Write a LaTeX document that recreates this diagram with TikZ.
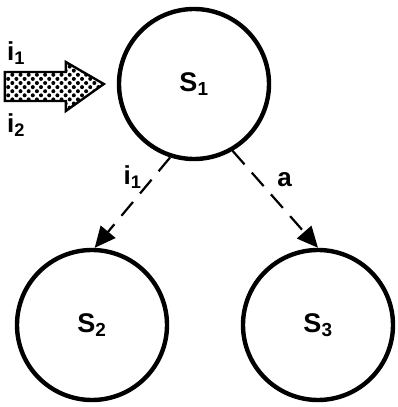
\documentclass[tikz,border=0pt]{standalone}
\usepackage{fontspec}
\setmainfont{Liberation Sans}
\usetikzlibrary{arrows.meta,patterns.meta}

\begin{document}
\begin{tikzpicture}[x=1pt,y=1pt,
  state/.style={draw,circle,line width=4.4pt,minimum size=150pt,inner sep=0pt,
    font=\fontsize{27}{30}\selectfont\bfseries},
  trans/.style={line width=2.2pt,dash pattern=on 18pt off 11pt,
    -{Triangle[length=21pt,width=19pt]}},
  lbl/.style={font=\fontsize{26}{30}\selectfont\bfseries,inner sep=2pt}]
  \useasboundingbox (0,0) rectangle (397,407);
  \node[state] (s1) at (194,323) {S\textsubscript{1}};
  \node[state] (s2) at (92,82) {S\textsubscript{2}};
  \node[state] (s3) at (318,82) {S\textsubscript{3}};
  \draw[trans] (s1.252) -- node[lbl,pos=0.22,left=9pt] (l1) {i\textsubscript{1}} (s2.88);
  \draw[trans] (s1.300) -- node[lbl,pos=0.3,right=16pt] (la) {a} (s3.90);
  % input arrow
  \coordinate (tip) at ([xshift=-13pt]s1.west);
  \draw[line width=2.4pt,pattern={Dots[radius=2pt,distance=5.8pt,angle=45]}]
    (tip) -- ++(-38,22) -- ++(0,-10) -- ++(-61,0) -- ++(0,-29)
    -- ++(61,0) -- ++(0,-10) -- cycle;
  \node[lbl] (in1) at (16,354) {i\textsubscript{1}};
  \node[lbl] (in2) at (16,282) {i\textsubscript{2}};
\end{tikzpicture}
\end{document}
